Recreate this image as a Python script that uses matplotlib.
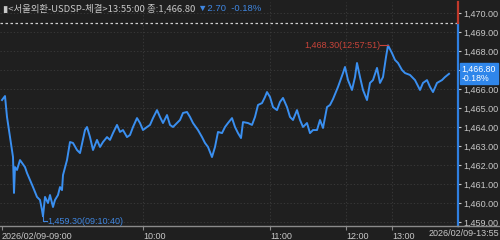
import matplotlib
matplotlib.use("Agg")
import matplotlib.pyplot as plt
from matplotlib.lines import Line2D

plt.rcParams['font.family'] = ['Noto Sans CJK KR', 'DejaVu Sans']
NUMFONT = ['Liberation Sans', 'DejaVu Sans']

# ---- data ----
tick_seq = [2, 5, 7, 10, 13, 14, 15, 17, 20, 22, 25, 27, 30, 33, 37, 40, 42, 43, 45, 48,
            50, 53, 55, 58, 60, 62, 63, 67, 70, 73, 77, 80, 85, 87, 90, 93, 97, 100, 103, 107,
            110, 113, 117, 120, 123, 127, 130, 133, 137, 140, 143, 147, 150, 153, 157, 160, 163, 167, 170, 173,
            177, 180, 183, 187, 190, 193, 198, 202, 205, 208, 212, 215, 218, 222, 225, 228, 232, 235, 238, 241,
            243, 248, 252, 255, 258, 262, 265, 267, 270, 273, 277, 280, 283, 287, 290, 293, 297, 300, 303, 307,
            310, 313, 317, 320, 323, 327, 330, 333, 338, 343, 345, 348, 352, 355, 357, 360, 363, 367, 370, 373,
            377, 380, 383, 386, 388, 392, 395, 398, 402, 405, 410, 415, 420, 423, 427, 430, 433, 437, 442, 445, 449]
price = [1465.42, 1465.63, 1464.53, 1463.47, 1462.42, 1460.53, 1461.89, 1461.74, 1462.26, 1462.11,
         1461.89, 1461.58, 1461.21, 1460.84, 1460.32, 1460.16, 1459.63, 1459.30, 1460.32, 1460.00,
         1460.42, 1459.79, 1460.16, 1460.42, 1460.84, 1460.68, 1461.47, 1462.26, 1463.21, 1463.16,
         1462.79, 1462.63, 1463.84, 1464.00, 1463.47, 1462.79, 1463.32, 1462.95, 1463.21, 1463.47,
         1463.32, 1463.68, 1464.11, 1463.74, 1463.84, 1463.47, 1463.58, 1464.00, 1464.47, 1464.21,
         1463.84, 1464.00, 1464.11, 1464.47, 1464.89, 1464.53, 1464.21, 1464.63, 1464.11, 1464.00,
         1464.21, 1464.37, 1464.74, 1464.79, 1464.53, 1464.21, 1463.84, 1463.47, 1463.16, 1462.95,
         1462.42, 1462.95, 1463.74, 1463.68, 1464.00, 1464.21, 1464.47, 1464.00, 1463.68, 1463.42,
         1464.26, 1464.21, 1464.11, 1464.53, 1465.16, 1465.26, 1465.58, 1465.84, 1465.58, 1465.05,
         1464.89, 1465.32, 1465.53, 1465.05, 1464.53, 1464.37, 1464.89, 1464.37, 1464.00, 1464.21,
         1463.68, 1463.84, 1463.84, 1464.37, 1463.95, 1465.05, 1465.16, 1465.47, 1466.11, 1466.84,
         1467.16, 1466.47, 1465.95, 1466.63, 1467.37, 1466.63, 1465.95, 1465.42, 1466.32, 1466.47,
         1467.11, 1466.32, 1466.63, 1467.68, 1468.30, 1467.89, 1467.53, 1467.37, 1467.00, 1466.84,
         1466.74, 1466.47, 1465.95, 1466.32, 1466.47, 1466.11, 1465.84, 1466.32, 1466.47, 1466.63, 1466.80]

time_tick_seq = [2, 143, 270, 346, 392]
time_tick_labels = ["2026/02/09-09:00", "10:00", "11:00", "12:00", "13:00"]
end_label = "2026/02/09-13:55"
y_ticks = [1459, 1460, 1461, 1462, 1463, 1464, 1465, 1466, 1467, 1468, 1469, 1470]
hidden_y_label = 1467  # covered by the current-price box in the reference
prev_close = 1469.50
last_price = 1466.80
change_pct = -0.18
high_label = "1,468.30(12:57:51)"
low_label = "1,459.30(09:10:40)"
title_main = "▮<서울외환-USDSP-체결>13:55:00 종:1,466.80 "
title_change = "▼2.70  -0.18%"

# ---- style ----
BG = "#1f1f1f"
LINE = "#3a8ff0"
TXT = "#c8c8c8"
RED = "#c8443a"
BLUE_TXT = "#3f86e0"
GRID = "#3c3c3c"

fig = plt.figure(figsize=(5, 2.4), dpi=100, facecolor=BG)
ax = fig.add_axes([0.0, 14 / 240, 458 / 500, 224 / 240])
ax.set_facecolor(BG)

ax.set_xlim(0, 458)
ax.set_ylim(1458.79, 1470.58)

# grid
for v in y_ticks:
    ax.axhline(v, color=GRID, lw=0.6, ls=(0, (1.5, 2.5)), zorder=0)
for t in time_tick_seq[1:]:
    ax.axvline(t, color=GRID, lw=0.6, ls=(0, (1.5, 2.5)), zorder=0)

# previous close dashed
ax.axhline(prev_close, color="#d0d0d0", lw=0.9, ls=(0, (2, 2)), zorder=1)

# price line
ax.plot(tick_seq, price, color=LINE, lw=1.4, zorder=3)

# high annotation
hi_i = price.index(max(price))
ax.plot([tick_seq[hi_i] - 8, tick_seq[hi_i]], [price[hi_i], price[hi_i]], color=RED, lw=0.8, zorder=4)
ax.text(tick_seq[hi_i] - 8, price[hi_i], high_label, color=RED, fontsize=6.5,
        ha='right', va='center', family=NUMFONT, zorder=4)

# low annotation
lo_i = price.index(min(price))
ax.plot([tick_seq[lo_i], tick_seq[lo_i], tick_seq[lo_i] + 4],
        [price[lo_i], price[lo_i] - 0.25, price[lo_i] - 0.25], color=BLUE_TXT, lw=0.8, zorder=4)
ax.text(tick_seq[lo_i] + 4, price[lo_i] - 0.25, low_label, color=BLUE_TXT, fontsize=6.5,
        ha='left', va='center', family=NUMFONT, zorder=4)

# spines
for s in ['top', 'left']:
    ax.spines[s].set_visible(False)
ax.spines['right'].set_color("#2f7fe0")
ax.spines['right'].set_linewidth(1.6)
ax.spines['right'].set_bounds(1458.79, prev_close)
ax.plot([458, 458], [prev_close, 1470.58], color="#c0392b", lw=1.6, clip_on=False, zorder=5)
ax.spines['bottom'].set_color("#8a8a8a")
ax.spines['bottom'].set_linewidth(1.0)

# y ticks on right
ax.yaxis.tick_right()
ax.set_yticks(y_ticks)
ax.set_yticklabels(["" if v == hidden_y_label else f"{v:,.2f}" for v in y_ticks])
ax.tick_params(axis='y', colors=TXT, labelsize=6.5, length=2.5, width=0.8, pad=1,
               labelcolor=TXT, direction='out')
for lab in ax.get_yticklabels():
    lab.set_family(NUMFONT)

# x ticks
ax.set_xticks(time_tick_seq)
ax.set_xticklabels(time_tick_labels)
ax.tick_params(axis='x', colors="#8a8a8a", labelcolor=TXT, labelsize=6.5, length=3, width=0.8, pad=1)
for lab in ax.get_xticklabels():
    lab.set_ha('left')
    lab.set_family(NUMFONT)

# extend bottom line across full width
fig.add_artist(Line2D([458 / 500, 1.0], [14 / 240, 14 / 240], color="#8a8a8a", lw=1.0))
fig.text(0.998, 7 / 240, end_label, color=TXT, fontsize=6.5, ha='right', va='center',
         family=NUMFONT)

# current price box
ax.annotate(f"{last_price:,.2f}\n{change_pct:.2f}%", xy=(1.0, last_price), xycoords=('axes fraction', 'data'),
            xytext=(2.5, 0), textcoords='offset points', color='white', fontsize=6.3,
            ha='left', va='center', linespacing=0.95, family=NUMFONT,
            bbox=dict(boxstyle='square,pad=0.2', fc="#2f86ea", ec="#2f86ea"), zorder=6,
            annotation_clip=False)

# title
t1 = fig.text(0.006, 1 - 8 / 240, title_main, color=TXT, fontsize=6.8, ha='left', va='center')
fig.canvas.draw()
bb = t1.get_window_extent()
x2 = bb.x1 / fig.bbox.width
fig.text(x2, 1 - 8 / 240, title_change, color=BLUE_TXT, fontsize=6.8, ha='left', va='center',
         family=NUMFONT)

fig.savefig("out.png", dpi=100, facecolor=BG)
